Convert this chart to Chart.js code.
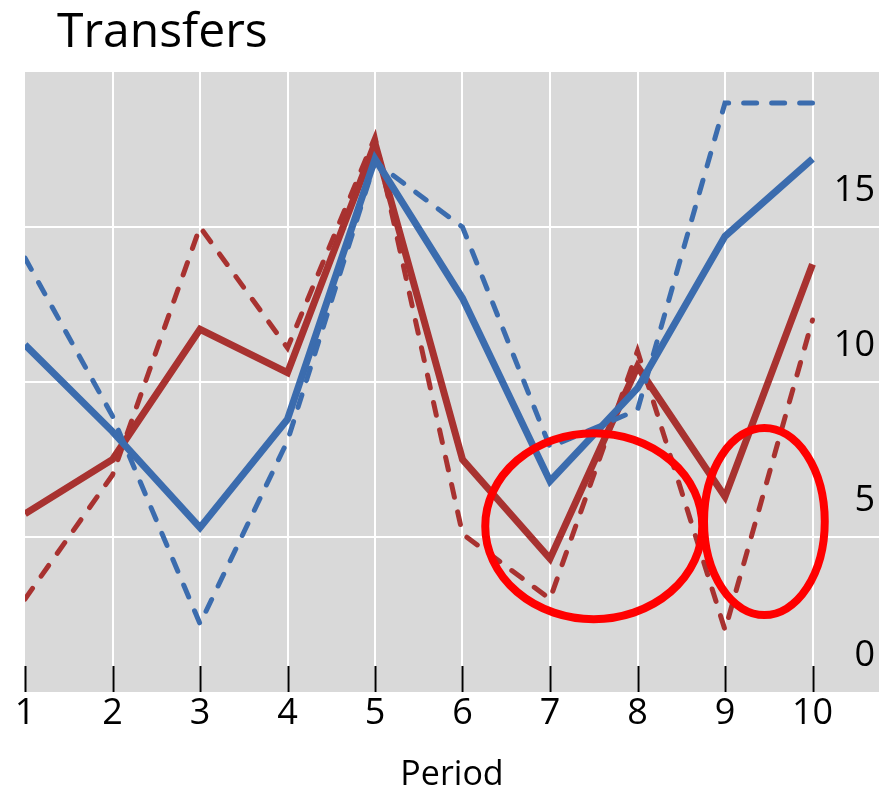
<!DOCTYPE html>
<html lang="en">
<head>
    <meta charset="UTF-8">
    <title>Transfers</title>
    <script src="https://cdn.jsdelivr.net/npm/chart.js"></script>
    <style>
        body {
            margin: 0;
            background: #ffffff;
        }
        .chart-box {
            width: 879px;
            height: 792px;
        }
    </style>
</head>
<body>
    <div class="chart-box">
        <canvas id="transfersChart" width="879" height="792"></canvas>
    </div>

    <script>
        // values
        const periods = [1, 2, 3, 4, 5, 6, 7, 8, 9, 10];
        const blueSolid = [11.2, 8.4, 5.3, 8.8, 17.2, 12.7, 6.8, 9.8, 14.7, 17.2];
        const blueDashed = [14.0, 8.9, 2.2, 8.1, 17.1, 15.0, 7.9, 9.1, 19.0, 19.0];
        const redSolid = [5.75, 7.5, 11.7, 10.3, 17.7, 7.5, 4.3, 10.5, 6.3, 13.8];
        const redDashed = [3.0, 7.0, 15.0, 11.1, 17.9, 5.1, 3.0, 11.0, 2.0, 12.0];
        const yTicks = [0, 5, 10, 15];
        // hand-drawn red rings, in data units (centre period, centre value, radius in periods, radius in value)
        const highlights = [
            { x: 7.5, y: 5.35, rx: 1.24, ry: 3.0 },
            { x: 9.45, y: 5.5, rx: 0.69, ry: 3.02 }
        ];

        const BLUE = '#3b6cae';
        const RED = '#a83230';
        const PANEL = '#d9d9d9';

        Chart.defaults.font.family = '"Open Sans", "Noto Sans", sans-serif';
        Chart.defaults.color = '#000000';

        function toPoints(values) {
            return periods.map((p, i) => ({ x: p, y: values[i] }));
        }

        const panelBackground = {
            id: 'panelBackground',
            beforeDraw(chart) {
                const { ctx, chartArea: a } = chart;
                ctx.save();
                ctx.fillStyle = PANEL;
                ctx.fillRect(a.left, a.top, a.right - a.left, a.bottom - a.top);
                ctx.restore();
            }
        };

        // black tick marks sit inside the panel, standing on its bottom edge
        const innerTicks = {
            id: 'innerTicks',
            beforeDatasetsDraw(chart) {
                const { ctx, chartArea: a } = chart;
                const xs = chart.scales.x;
                ctx.save();
                ctx.strokeStyle = '#000000';
                ctx.lineWidth = 2;
                periods.forEach(p => {
                    const px = Math.round(xs.getPixelForValue(p)) + 0.5;
                    ctx.beginPath();
                    ctx.moveTo(px, a.bottom);
                    ctx.lineTo(px, a.bottom - 26);
                    ctx.stroke();
                });
                ctx.restore();
            }
        };

        const rings = {
            id: 'rings',
            afterDatasetsDraw(chart) {
                const { ctx } = chart;
                const xs = chart.scales.x;
                const ys = chart.scales.y;
                ctx.save();
                ctx.strokeStyle = '#ff0000';
                ctx.lineWidth = 8;
                highlights.forEach(h => {
                    const cx = xs.getPixelForValue(h.x);
                    const cy = ys.getPixelForValue(h.y);
                    const rx = Math.abs(xs.getPixelForValue(h.x + h.rx) - cx);
                    const ry = Math.abs(ys.getPixelForValue(h.y + h.ry) - cy);
                    ctx.beginPath();
                    ctx.ellipse(cx, cy, rx, ry, 0, 0, Math.PI * 2);
                    ctx.stroke();
                });
                ctx.restore();
            }
        };

        const heading = {
            id: 'heading',
            afterDraw(chart) {
                const { ctx } = chart;
                ctx.save();
                ctx.fillStyle = '#000000';
                ctx.font = '48px "Open Sans", "Noto Sans", sans-serif';
                ctx.textAlign = 'left';
                ctx.textBaseline = 'alphabetic';
                ctx.fillText('Transfers', 57, 47);
                ctx.restore();
            }
        };

        const ctx = document.getElementById('transfersChart').getContext('2d');
        new Chart(ctx, {
            type: 'line',
            data: {
                datasets: [
                    {
                        label: 'Blue dashed',
                        data: toPoints(blueDashed),
                        borderColor: BLUE,
                        borderWidth: 5,
                        borderDash: [13, 15],
                        borderCapStyle: 'round',
                        order: 0
                    },
                    {
                        label: 'Blue',
                        data: toPoints(blueSolid),
                        borderColor: BLUE,
                        borderWidth: 7,
                        order: 1
                    },
                    {
                        label: 'Red dashed',
                        data: toPoints(redDashed),
                        borderColor: RED,
                        borderWidth: 5,
                        borderDash: [13, 15],
                        borderCapStyle: 'round',
                        order: 2
                    },
                    {
                        label: 'Red',
                        data: toPoints(redSolid),
                        borderColor: RED,
                        borderWidth: 7,
                        order: 3
                    }
                ]
            },
            options: {
                responsive: false,
                animation: false,
                layout: {
                    padding: { top: 72, left: 25, right: 0, bottom: 0 }
                },
                elements: {
                    point: { radius: 0 },
                    line: { tension: 0, fill: false }
                },
                plugins: {
                    legend: { display: false },
                    tooltip: { enabled: false }
                },
                scales: {
                    x: {
                        type: 'linear',
                        min: 1,
                        max: 10.76,
                        afterBuildTicks: scale => {
                            scale.ticks = periods.map(v => ({ value: v }));
                        },
                        afterFit: scale => {
                            scale.height = 100;
                        },
                        border: { display: false },
                        grid: {
                            drawTicks: false,
                            lineWidth: 2,
                            color: c => (c.tick && c.tick.value > 1 ? '#ffffff' : 'rgba(0,0,0,0)')
                        },
                        ticks: {
                            autoSkip: false,
                            maxRotation: 0,
                            padding: 0,
                            font: { size: 36 },
                            color: '#000000'
                        },
                        title: {
                            display: true,
                            text: 'Period',
                            font: { size: 34, lineHeight: 1 },
                            color: '#000000',
                            padding: { top: 0, bottom: 0 }
                        }
                    },
                    y: {
                        position: 'right',
                        min: 0,
                        max: 20,
                        afterBuildTicks: scale => {
                            scale.ticks = yTicks.map(v => ({ value: v }));
                        },
                        afterFit: scale => {
                            scale.width = 0;
                        },
                        border: { display: false },
                        grid: {
                            drawTicks: false,
                            lineWidth: 2,
                            color: c => (c.tick && c.tick.value > 0 ? '#ffffff' : 'rgba(0,0,0,0)')
                        },
                        ticks: {
                            mirror: true,
                            padding: -4,
                            labelOffset: -36,
                            font: { size: 36 },
                            color: '#000000'
                        }
                    }
                }
            },
            plugins: [panelBackground, innerTicks, rings, heading]
        });
    </script>
</body>
</html>
